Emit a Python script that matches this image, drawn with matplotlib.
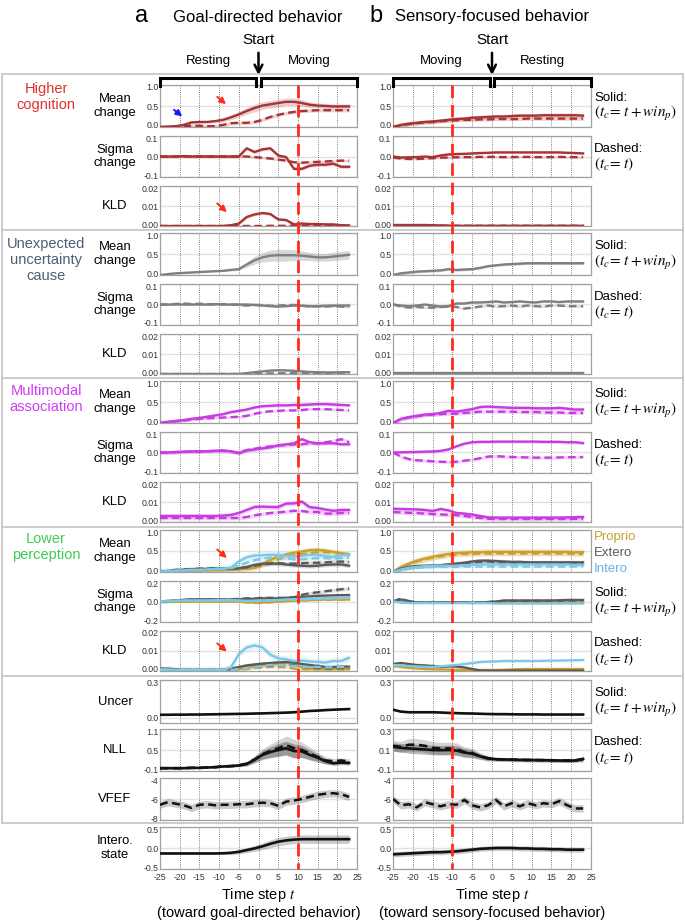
import numpy as np
import matplotlib
matplotlib.use("Agg")
import matplotlib.pyplot as plt
from matplotlib.transforms import blended_transform_factory, ScaledTranslation
from matplotlib.lines import Line2D
from matplotlib.patches import Rectangle

plt.rcParams['font.family'] = ['Liberation Sans', 'DejaVu Sans']
plt.rcParams['mathtext.fontset'] = 'stix'

# ---------------- data ----------------
T = [-25, -23, -21, -19, -17, -15, -13, -11, -9, -7, -5, -3, -1, 1, 3, 5, 7, 9, 11, 13, 15, 17, 19, 21, 23]
X_TICKS = [-25, -20, -15, -10, -5, 0, 5, 10, 15, 20, 25]
RED_LINE_T = [10, -10]
START_T = 0
PHASES_A = [("Resting", -25, -0.6), ("Moving", 0.6, 25)]
PHASES_B = [("Moving", -25, -0.6), ("Resting", 0.6, 25)]

# Higher cognition, column a
HC_A_MEAN_S = [0.00, 0.01, 0.02, 0.05, 0.11, 0.12, 0.12, 0.14, 0.17, 0.23, 0.30, 0.38, 0.45, 0.51, 0.54, 0.57, 0.60, 0.60, 0.57, 0.53, 0.51, 0.50, 0.49, 0.49, 0.49]
HC_A_MEAN_S_SD = [0.01, 0.01, 0.01, 0.02, 0.03, 0.03, 0.03, 0.04, 0.05, 0.06, 0.07, 0.08, 0.09, 0.09, 0.09, 0.09, 0.09, 0.09, 0.08, 0.07, 0.06, 0.06, 0.06, 0.06, 0.06]
HC_A_MEAN_D = [0.00, 0.00, 0.01, 0.02, 0.03, 0.03, 0.02, 0.02, 0.05, 0.09, 0.10, 0.10, 0.12, 0.17, 0.24, 0.29, 0.33, 0.36, 0.38, 0.39, 0.40, 0.40, 0.40, 0.40, 0.40]
HC_A_SIG_S = [0, 0, 0, 0.002, 0, 0.001, 0, 0, 0, 0, 0, 0.04, 0.022, 0.035, 0.04, 0.005, -0.003, -0.06, -0.06, -0.045, -0.04, -0.04, -0.035, -0.05, -0.05]
HC_A_SIG_D = [0, 0, 0, 0, 0, 0, 0, 0, 0, 0, 0, 0, -0.003, -0.006, -0.01, -0.015, -0.02, -0.028, -0.03, -0.028, -0.026, -0.024, -0.022, -0.02, -0.02]
HC_A_KLD_S = [0, 0, 0, 0, 0, 0, 0, 0, 0, 0.0004, 0.0012, 0.0045, 0.0058, 0.0065, 0.006, 0.0033, 0.003, 0.0008, 0.0012, 0.001, 0.001, 0.0008, 0.0008, 0.0004, 0.0003]
HC_A_KLD_D = [0, 0, 0, 0, 0, 0, 0, 0, 0, 0, 0, 0, 0, 0, 0.0001, 0.0001, 0.0001, 0.0002, 0.0002, 0.0002, 0.0002, 0.0002, 0.0002, 0.0002, 0.0002]
# Higher cognition, column b
HC_B_MEAN_S = [0.00, 0.05, 0.08, 0.10, 0.12, 0.13, 0.15, 0.17, 0.19, 0.20, 0.22, 0.23, 0.24, 0.25, 0.25, 0.26, 0.27, 0.27, 0.27, 0.28, 0.28, 0.28, 0.28, 0.28, 0.27]
HC_B_MEAN_D = [0.00, 0.04, 0.07, 0.09, 0.11, 0.12, 0.14, 0.15, 0.16, 0.17, 0.17, 0.18, 0.18, 0.19, 0.19, 0.19, 0.19, 0.20, 0.20, 0.20, 0.20, 0.20, 0.20, 0.20, 0.20]
HC_B_SIG_S = [0, -0.005, -0.004, -0.003, 0, -0.003, 0.005, 0.01, 0.012, 0.013, 0.015, 0.017, 0.018, 0.02, 0.02, 0.02, 0.02, 0.02, 0.02, 0.02, 0.02, 0.02, 0.018, 0.017, 0.015]
HC_B_SIG_D = [-0.005, -0.01, -0.012, -0.012, -0.01, -0.008, -0.006, -0.005, -0.004, -0.003, -0.003, -0.002, -0.002, -0.002, -0.003, -0.003, -0.002, -0.002, -0.003, -0.003, -0.003, -0.002, -0.003, -0.003, -0.003]
HC_B_KLD_S = [0.0005, 0.0005, 0.0005, 0.0005, 0.0005, 0.0004, 0.0003, 0.0002, 0.0001, 0.0001, 0.0001, 0.0001, 0.0001, 0.0001, 0.0001, 0.0001, 0.0001, 0.0001, 0.0001, 0.0001, 0.0001, 0.0001, 0.0001, 0.0001, 0.0001]
HC_B_KLD_D = [0.0003, 0.0003, 0.0002, 0.0002, 0.0002, 0.0002, 0.0001, 0.0001, 0.0001, 0.0001, 0.0001, 0.0001, 0.0001, 0.0001, 0.0001, 0.0001, 0.0001, 0.0001, 0.0001, 0.0001, 0.0001, 0.0001, 0.0001, 0.0001, 0.0001]

# Unexpected uncertainty cause
UU_A_MEAN_S = [0.00, 0.02, 0.04, 0.05, 0.06, 0.07, 0.08, 0.09, 0.10, 0.12, 0.14, 0.25, 0.35, 0.42, 0.46, 0.47, 0.47, 0.47, 0.46, 0.44, 0.42, 0.42, 0.44, 0.46, 0.48]
UU_A_MEAN_S_SD = [0.01, 0.01, 0.01, 0.01, 0.01, 0.01, 0.01, 0.01, 0.01, 0.02, 0.03, 0.06, 0.09, 0.11, 0.13, 0.14, 0.14, 0.13, 0.11, 0.10, 0.09, 0.09, 0.10, 0.10, 0.10]
UU_A_SIG_S = [0, 0, 0, 0, 0, 0, 0, 0.002, 0, 0, 0, 0, -0.002, -0.005, -0.008, -0.01, -0.008, -0.005, -0.006, -0.008, -0.008, -0.006, -0.005, -0.005, -0.005]
UU_A_SIG_D = [0, 0, 0.003, 0.005, 0.002, 0.004, 0.002, 0, 0.002, 0, -0.002, -0.005, -0.002, -0.003, -0.006, -0.005, -0.003, -0.002, -0.006, -0.01, -0.008, -0.01, -0.008, -0.01, -0.012]
UU_A_KLD_S = [0, 0, 0, 0, 0, 0, 0, 0, 0, 0, 0, 0.0004, 0.0009, 0.0013, 0.0017, 0.0019, 0.0018, 0.0016, 0.0013, 0.001, 0.0009, 0.0008, 0.0008, 0.0009, 0.0009]
UU_A_KLD_D = [0, 0, 0, 0, 0, 0, 0, 0, 0, 0, 0, 0.0001, 0.0002, 0.0003, 0.0003, 0.0004, 0.0004, 0.0004, 0.0003, 0.0003, 0.0003, 0.0003, 0.0003, 0.0003, 0.0003]
UU_B_MEAN_S = [0.00, 0.04, 0.06, 0.08, 0.09, 0.10, 0.11, 0.14, 0.12, 0.13, 0.14, 0.17, 0.21, 0.23, 0.25, 0.26, 0.27, 0.28, 0.28, 0.28, 0.28, 0.28, 0.28, 0.28, 0.28]
UU_B_SIG_S = [0, -0.005, -0.008, -0.005, 0, -0.005, -0.01, -0.008, 0.005, 0.005, 0.01, 0.01, 0.012, 0.015, 0.01, 0.012, 0.015, 0.012, 0.01, 0.015, 0.015, 0.012, 0.015, 0.015, 0.015]
UU_B_SIG_D = [0, -0.01, -0.015, -0.012, -0.015, -0.015, -0.012, -0.01, -0.012, -0.02, -0.015, -0.01, -0.005, -0.01, -0.008, -0.005, -0.01, -0.005, -0.008, -0.01, -0.005, -0.005, -0.008, -0.008, -0.008]
UU_B_KLD_S = [0.0004] * 25
UU_B_KLD_D = [0.0002] * 25

# Multimodal association
MA_A_MEAN_S = [0.00, 0.03, 0.05, 0.07, 0.10, 0.12, 0.15, 0.18, 0.21, 0.26, 0.29, 0.32, 0.37, 0.40, 0.41, 0.42, 0.42, 0.43, 0.43, 0.44, 0.45, 0.45, 0.44, 0.43, 0.42]
MA_A_MEAN_D = [0.00, 0.02, 0.04, 0.06, 0.08, 0.10, 0.11, 0.12, 0.13, 0.14, 0.15, 0.17, 0.22, 0.26, 0.28, 0.29, 0.30, 0.30, 0.31, 0.33, 0.33, 0.33, 0.32, 0.31, 0.30]
MA_A_SIG_S = [0, 0, 0.002, 0.004, 0.005, 0.005, 0.006, 0.008, 0.01, 0.006, -0.004, 0.01, 0.015, 0.02, 0.025, 0.035, 0.04, 0.045, 0.065, 0.05, 0.045, 0.045, 0.045, 0.04, 0.04]
MA_A_SIG_D = [0, 0, 0.002, 0.003, 0.004, 0.005, 0.006, 0.008, 0.008, 0.004, 0.0, 0.012, 0.018, 0.025, 0.03, 0.035, 0.035, 0.04, 0.04, 0.045, 0.045, 0.05, 0.055, 0.065, 0.05]
MA_A_KLD_S = [0.003, 0.003, 0.003, 0.003, 0.003, 0.003, 0.003, 0.003, 0.0032, 0.0035, 0.0045, 0.006, 0.0075, 0.0077, 0.0075, 0.0075, 0.0092, 0.0093, 0.0102, 0.0074, 0.007, 0.0062, 0.0056, 0.006, 0.006]
MA_A_KLD_D = [0.002, 0.002, 0.002, 0.002, 0.002, 0.002, 0.002, 0.002, 0.002, 0.002, 0.002, 0.0025, 0.0033, 0.004, 0.0045, 0.0048, 0.0052, 0.0056, 0.0055, 0.005, 0.005, 0.0042, 0.0042, 0.0045, 0.0045]
MA_B_MEAN_S = [0.00, 0.10, 0.14, 0.17, 0.20, 0.21, 0.24, 0.29, 0.27, 0.30, 0.33, 0.38, 0.39, 0.38, 0.37, 0.36, 0.36, 0.36, 0.35, 0.35, 0.35, 0.36, 0.34, 0.32, 0.32]
MA_B_MEAN_D = [0.00, 0.09, 0.13, 0.16, 0.19, 0.20, 0.21, 0.22, 0.22, 0.24, 0.25, 0.27, 0.27, 0.27, 0.27, 0.27, 0.26, 0.26, 0.26, 0.25, 0.25, 0.25, 0.24, 0.24, 0.24]
MA_B_SIG_S = [0, 0.001, 0.002, 0.003, 0.004, 0.005, 0.008, 0.015, 0.03, 0.043, 0.05, 0.052, 0.052, 0.053, 0.053, 0.053, 0.053, 0.053, 0.053, 0.052, 0.052, 0.052, 0.05, 0.05, 0.046]
MA_B_SIG_D = [0, -0.02, -0.032, -0.038, -0.04, -0.043, -0.045, -0.046, -0.045, -0.04, -0.035, -0.028, -0.02, -0.018, -0.02, -0.022, -0.023, -0.024, -0.025, -0.025, -0.025, -0.024, -0.023, -0.023, -0.022]
MA_B_KLD_S = [0.0066, 0.0065, 0.0064, 0.0063, 0.006, 0.0055, 0.0065, 0.0058, 0.0045, 0.0042, 0.0037, 0.003, 0.0023, 0.0022, 0.0022, 0.0022, 0.0022, 0.0022, 0.0022, 0.0022, 0.0022, 0.0022, 0.0023, 0.0024, 0.0025]
MA_B_KLD_D = [0.005, 0.0048, 0.0046, 0.0045, 0.0042, 0.004, 0.0038, 0.0036, 0.0034, 0.003, 0.0025, 0.002, 0.0016, 0.0015, 0.0015, 0.0015, 0.0015, 0.0015, 0.0015, 0.0015, 0.0015, 0.0015, 0.0015, 0.0015, 0.0015]

# Lower perception (proprio / extero / intero)
LP_A_MEAN_P_S = [0.00, 0.01, 0.02, 0.03, 0.03, 0.04, 0.04, 0.05, 0.05, 0.06, 0.07, 0.08, 0.10, 0.19, 0.29, 0.37, 0.42, 0.46, 0.49, 0.52, 0.53, 0.51, 0.48, 0.45, 0.42]
LP_A_MEAN_P_D = [0.00, 0.01, 0.02, 0.03, 0.03, 0.04, 0.04, 0.05, 0.05, 0.06, 0.07, 0.08, 0.10, 0.15, 0.22, 0.30, 0.36, 0.40, 0.43, 0.45, 0.47, 0.47, 0.46, 0.44, 0.42]
LP_A_MEAN_E_S = [0.00, 0.02, 0.04, 0.05, 0.06, 0.07, 0.07, 0.08, 0.08, 0.08, 0.09, 0.12, 0.17, 0.20, 0.20, 0.20, 0.18, 0.16, 0.15, 0.14, 0.15, 0.17, 0.18, 0.18, 0.15]
LP_A_MEAN_E_D = [0.00, 0.03, 0.05, 0.06, 0.07, 0.08, 0.08, 0.09, 0.09, 0.09, 0.09, 0.11, 0.15, 0.18, 0.20, 0.21, 0.20, 0.20, 0.21, 0.22, 0.22, 0.23, 0.24, 0.25, 0.24]
LP_A_MEAN_I_S = [0.00, 0.02, 0.03, 0.04, 0.05, 0.05, 0.06, 0.07, 0.08, 0.10, 0.25, 0.35, 0.39, 0.40, 0.41, 0.41, 0.39, 0.37, 0.38, 0.41, 0.41, 0.38, 0.36, 0.40, 0.42]
LP_A_MEAN_I_D = [0.00, 0.02, 0.03, 0.04, 0.05, 0.05, 0.06, 0.07, 0.08, 0.09, 0.15, 0.22, 0.28, 0.32, 0.34, 0.35, 0.33, 0.30, 0.30, 0.32, 0.33, 0.33, 0.32, 0.33, 0.34]
LP_A_SIG_P_S = [0, 0, 0, 0, 0, 0, 0, 0, 0, 0, 0, -0.005, -0.01, -0.008, -0.005, 0, 0.005, 0.01, 0.012, 0.015, 0.018, 0.02, 0.02, 0.02, 0.02]
LP_A_SIG_P_D = [0, 0, 0, 0, 0, 0, 0, 0, 0, 0, -0.003, -0.008, -0.012, -0.01, -0.006, -0.002, 0.003, 0.008, 0.01, 0.012, 0.015, 0.017, 0.018, 0.018, 0.018]
LP_A_SIG_E_S = [0, 0.005, 0.01, 0.015, 0.02, 0.02, 0.02, 0.02, 0.02, 0.02, 0.02, 0.025, 0.025, 0.03, 0.03, 0.03, 0.035, 0.04, 0.045, 0.05, 0.055, 0.058, 0.06, 0.062, 0.063]
LP_A_SIG_E_D = [0, 0.005, 0.01, 0.015, 0.02, 0.02, 0.02, 0.02, 0.02, 0.022, 0.025, 0.03, 0.03, 0.035, 0.035, 0.035, 0.035, 0.04, 0.065, 0.08, 0.09, 0.10, 0.11, 0.12, 0.125]
LP_A_SIG_I_S = [0, 0.005, 0.008, 0.01, 0.01, 0.01, 0.01, 0.012, 0.015, 0.015, 0.01, 0.005, 0.008, 0.01, 0.012, 0.015, 0.02, 0.022, 0.025, 0.028, 0.03, 0.032, 0.035, 0.038, 0.04]
LP_A_SIG_I_D = [0, 0.004, 0.006, 0.008, 0.008, 0.008, 0.008, 0.01, 0.012, 0.012, 0.008, 0.004, 0.006, 0.008, 0.01, 0.012, 0.015, 0.018, 0.02, 0.022, 0.025, 0.027, 0.03, 0.032, 0.034]
LP_A_KLD_P_S = [0.0003, 0.0003, 0.0003, 0.0003, 0.0003, 0.0003, 0.0003, 0.0003, 0.0003, 0.0005, 0.001, 0.0018, 0.0025, 0.003, 0.0035, 0.0038, 0.0042, 0.003, 0.002, 0.0012, 0.001, 0.001, 0.001, 0.001, 0.001]
LP_A_KLD_P_D = [0.0002, 0.0002, 0.0002, 0.0002, 0.0002, 0.0002, 0.0002, 0.0002, 0.0002, 0.0003, 0.0006, 0.001, 0.0015, 0.0018, 0.002, 0.002, 0.0018, 0.0012, 0.0009, 0.0008, 0.0008, 0.0008, 0.0008, 0.0008, 0.0008]
LP_A_KLD_E_S = [0.0012, 0.0012, 0.0008, 0.0006, 0.0006, 0.0006, 0.0006, 0.0006, 0.0006, 0.0012, 0.002, 0.0028, 0.0033, 0.0037, 0.004, 0.0043, 0.0045, 0.0042, 0.0035, 0.003, 0.0025, 0.002, 0.002, 0.0022, 0.0022]
LP_A_KLD_E_D = [0.0008, 0.0008, 0.0006, 0.0005, 0.0005, 0.0005, 0.0005, 0.0005, 0.0005, 0.0008, 0.0012, 0.0018, 0.0022, 0.0025, 0.0028, 0.003, 0.003, 0.0028, 0.0022, 0.0018, 0.0015, 0.0013, 0.0013, 0.0014, 0.0014]
LP_A_KLD_I_S = [0.0008, 0.0008, 0.0006, 0.0005, 0.0005, 0.0005, 0.0005, 0.0005, 0.0005, 0.0018, 0.0085, 0.0118, 0.0128, 0.0118, 0.0082, 0.0063, 0.0058, 0.005, 0.0052, 0.0048, 0.0045, 0.0042, 0.005, 0.005, 0.0066]
LP_A_KLD_I_D = [0.0005, 0.0005, 0.0004, 0.0003, 0.0003, 0.0003, 0.0003, 0.0003, 0.0003, 0.0005, 0.001, 0.0015, 0.002, 0.0025, 0.003, 0.003, 0.0028, 0.0025, 0.0022, 0.002, 0.002, 0.0018, 0.0018, 0.002, 0.002]
LP_B_MEAN_P_S = [0.00, 0.12, 0.20, 0.27, 0.32, 0.36, 0.40, 0.43, 0.45, 0.46, 0.47, 0.47, 0.48, 0.48, 0.48, 0.48, 0.48, 0.48, 0.48, 0.48, 0.48, 0.48, 0.48, 0.47, 0.47]
LP_B_MEAN_P_D = [0.00, 0.10, 0.18, 0.25, 0.30, 0.34, 0.37, 0.40, 0.42, 0.43, 0.43, 0.44, 0.44, 0.44, 0.44, 0.44, 0.44, 0.44, 0.44, 0.44, 0.44, 0.44, 0.44, 0.43, 0.43]
LP_B_MEAN_E_S = [0.00, 0.08, 0.12, 0.14, 0.15, 0.15, 0.16, 0.18, 0.20, 0.22, 0.25, 0.27, 0.27, 0.26, 0.25, 0.24, 0.24, 0.23, 0.23, 0.23, 0.23, 0.23, 0.23, 0.23, 0.23]
LP_B_MEAN_E_D = [0.00, 0.07, 0.11, 0.13, 0.14, 0.15, 0.16, 0.17, 0.19, 0.21, 0.23, 0.24, 0.25, 0.24, 0.23, 0.22, 0.22, 0.22, 0.21, 0.21, 0.21, 0.21, 0.21, 0.21, 0.21]
LP_B_MEAN_I_S = [0.00, 0.06, 0.10, 0.12, 0.14, 0.15, 0.15, 0.15, 0.15, 0.16, 0.17, 0.18, 0.18, 0.18, 0.18, 0.18, 0.18, 0.18, 0.18, 0.18, 0.18, 0.18, 0.18, 0.17, 0.17]
LP_B_MEAN_I_D = [0.00, 0.05, 0.08, 0.10, 0.11, 0.12, 0.12, 0.12, 0.12, 0.13, 0.13, 0.13, 0.13, 0.13, 0.13, 0.13, 0.13, 0.13, 0.13, 0.13, 0.13, 0.13, 0.13, 0.13, 0.13]
LP_B_SIG_P_S = [0, -0.005, -0.008, -0.01, -0.01, -0.01, -0.01, -0.01, -0.01, -0.012, -0.012, -0.012, -0.012, -0.01, -0.01, -0.01, -0.01, -0.01, -0.01, -0.01, -0.01, -0.01, -0.01, -0.01, -0.01]
LP_B_SIG_E_S = [0, 0.02, 0.005, -0.01, -0.01, -0.01, -0.01, -0.01, -0.008, -0.01, -0.012, -0.01, -0.005, 0.0, 0.01, 0.01, 0.01, 0.01, 0.01, 0.01, 0.01, 0.012, 0.015, 0.015, 0.015]
LP_B_SIG_E_D = [0, 0.03, 0.0, -0.012, -0.012, -0.012, -0.012, -0.01, -0.01, -0.01, -0.012, -0.01, -0.006, -0.002, 0.005, 0.006, 0.006, 0.006, 0.006, 0.006, 0.006, 0.008, 0.01, 0.01, 0.01]
LP_B_SIG_I_S = [0, -0.01, -0.015, -0.015, -0.015, -0.015, -0.015, -0.015, -0.015, -0.015, -0.015, -0.015, -0.015, -0.02, -0.02, -0.02, -0.02, -0.02, -0.02, -0.02, -0.02, -0.02, -0.02, -0.02, -0.02]
LP_B_KLD_P_S = [0.0025, 0.002, 0.0015, 0.0013, 0.001, 0.0009, 0.0008, 0.0007, 0.0006, 0.0006, 0.0005, 0.0005, 0.0005, 0.0005, 0.0006, 0.0008, 0.0009, 0.001, 0.001, 0.001, 0.001, 0.001, 0.001, 0.001, 0.001]
LP_B_KLD_E_S = [0.0035, 0.004, 0.0035, 0.003, 0.0028, 0.0025, 0.002, 0.0023, 0.0022, 0.0018, 0.001, 0.0003, 0.0002, 0.0002, 0.0002, 0.0002, 0.0002, 0.0002, 0.0002, 0.0002, 0.0002, 0.0002, 0.0002, 0.0002, 0.0002]
LP_B_KLD_I_S = [0.003, 0.0028, 0.0025, 0.0023, 0.0021, 0.002, 0.0023, 0.0027, 0.003, 0.0035, 0.004, 0.0045, 0.0047, 0.0048, 0.005, 0.005, 0.005, 0.005, 0.005, 0.0051, 0.0052, 0.0052, 0.0053, 0.0054, 0.0055]

# Bottom block: uncertainty, NLL, VFEF, interoceptive state
UNC_A = [0.025, 0.025, 0.026, 0.026, 0.027, 0.027, 0.028, 0.029, 0.030, 0.031, 0.032, 0.033, 0.035, 0.036, 0.038, 0.040, 0.042, 0.045, 0.050, 0.055, 0.058, 0.062, 0.065, 0.068, 0.070]
UNC_B = [0.065, 0.050, 0.045, 0.045, 0.045, 0.045, 0.043, 0.040, 0.038, 0.036, 0.035, 0.033, 0.031, 0.030, 0.030, 0.029, 0.028, 0.028, 0.028, 0.027, 0.027, 0.027, 0.027, 0.027, 0.027]
NLL_A_S = [-0.02, -0.02, -0.02, -0.02, -0.01, -0.01, 0.00, 0.01, 0.03, 0.04, 0.06, 0.10, 0.22, 0.36, 0.44, 0.50, 0.55, 0.47, 0.46, 0.36, 0.28, 0.18, 0.12, 0.14, 0.13]
NLL_A_D = [-0.02, -0.02, -0.02, -0.02, -0.01, -0.01, 0.00, 0.01, 0.03, 0.04, 0.06, 0.11, 0.23, 0.38, 0.47, 0.55, 0.64, 0.55, 0.50, 0.40, 0.30, 0.20, 0.18, 0.20, 0.17]
NLL_A_SD = [0.01, 0.01, 0.01, 0.01, 0.01, 0.01, 0.01, 0.015, 0.02, 0.025, 0.03, 0.05, 0.08, 0.12, 0.15, 0.18, 0.2, 0.2, 0.17, 0.14, 0.11, 0.08, 0.06, 0.06, 0.06]
NLL_B_S = [0.13, 0.12, 0.115, 0.11, 0.105, 0.10, 0.098, 0.10, 0.095, 0.075, 0.065, 0.04, 0.02, 0.012, 0.01, 0.008, 0.006, 0.005, 0.004, 0.003, 0.002, 0.0, -0.002, 0.0, 0.015]
NLL_B_D = [0.14, 0.13, 0.15, 0.15, 0.14, 0.12, 0.115, 0.115, 0.11, 0.08, 0.07, 0.04, 0.02, 0.012, 0.01, 0.008, 0.006, 0.005, 0.004, 0.003, 0.002, 0.0, 0.0, 0.002, 0.01]
NLL_B_SD = [0.04, 0.04, 0.045, 0.045, 0.045, 0.045, 0.045, 0.045, 0.045, 0.04, 0.035, 0.025, 0.02, 0.015, 0.015, 0.015, 0.015, 0.015, 0.015, 0.015, 0.015, 0.015, 0.015, 0.015, 0.02]
VFEF_A = [-6.55, -6.3, -6.45, -6.6, -6.85, -6.55, -6.5, -6.6, -6.55, -6.55, -6.5, -6.5, -6.4, -6.35, -6.4, -6.65, -6.25, -6.15, -6.0, -5.8, -5.6, -5.5, -5.45, -5.55, -5.8]
VFEF_B = [-6.0, -6.6, -6.5, -6.8, -6.3, -6.5, -6.7, -6.5, -6.55, -6.1, -6.6, -6.8, -6.6, -6.1, -6.7, -6.4, -6.7, -6.4, -6.6, -6.4, -6.5, -6.2, -6.6, -6.9, -6.9]
INTERO_A = [-0.13, -0.13, -0.13, -0.13, -0.13, -0.13, -0.13, -0.13, -0.125, -0.115, -0.09, -0.05, -0.01, 0.04, 0.10, 0.15, 0.18, 0.20, 0.21, 0.21, 0.21, 0.21, 0.21, 0.21, 0.21]
INTERO_A_SD = [0.02, 0.02, 0.02, 0.02, 0.02, 0.02, 0.02, 0.02, 0.03, 0.04, 0.05, 0.06, 0.07, 0.08, 0.09, 0.1, 0.1, 0.1, 0.1, 0.1, 0.1, 0.1, 0.1, 0.1, 0.1]
INTERO_B = [-0.15, -0.14, -0.13, -0.12, -0.11, -0.10, -0.10, -0.09, -0.08, -0.06, -0.04, -0.02, -0.01, 0.0, 0.0, 0.0, -0.01, -0.01, -0.02, -0.02, -0.03, -0.03, -0.04, -0.04, -0.04]

# ---------------- style ----------------
C_HC = '#a83234'
C_UU = '#7f7f7f'
C_MA = '#c63ce0'
C_P = '#c9a02c'
C_E = '#5a5a5a'
C_I = '#7cc8e6'
C_K = '#111111'
C_RED = '#ff2a1a'

W, H = 685, 922
fig = plt.figure(figsize=(W / 100, H / 100), dpi=100)

def fy(py):
    return 1 - py / H

ROWS = [(85, 127), (136, 177), (186, 226), (233, 275), (284, 325), (334, 374),
        (381, 423), (432, 473), (482, 522), (530, 572), (581, 622), (631, 671),
        (680, 723), (729, 771), (778, 820), (827, 869)]
COLS = [(160, 357), (393, 591)]

def row_spec(r, c):
    if r < 9:
        k = r % 3
        if k == 0:
            return (0, 1), [0, 0.5, 1], ['0.0', '0.5', '1.0']
        if k == 1:
            return (-0.1, 0.1), [-0.1, 0, 0.1], ['-0.1', '0.0', '0.1']
        return (0, 0.02), [0, 0.01, 0.02], ['0.00', '0.01', '0.02']
    if r == 9:
        return (0, 1), [0, 0.5, 1], ['0.0', '0.5', '1.0']
    if r == 10:
        return (-0.2, 0.2), [-0.2, 0, 0.2], ['-0.2', '0.0', '0.2']
    if r == 11:
        return (0, 0.02), [0, 0.01, 0.02], ['0.00', '0.01', '0.02']
    if r == 12:
        return (-0.04, 0.3), [0, 0.3], ['0.0', '0.3']
    if r == 13:
        if c == 0:
            return (-0.1, 1.1), [-0.1, 0.5, 1.1], ['-0.1', '0.5', '1.1']
        return (-0.1, 0.3), [-0.1, 0.1, 0.3], ['-0.1', '0.1', '0.3']
    if r == 14:
        return (-8, -4), [-8, -6, -4], ['-8', '-6', '-4']
    return (-0.5, 0.5), [-0.5, 0, 0.5], ['-0.5', '0.0', '0.5']

tick_font = dict(family=['Liberation Sans Narrow', 'Liberation Sans', 'DejaVu Sans'], size=6.3)
nudge_down = ScaledTranslation(0, -0.02, fig.dpi_scale_trans)
nudge_up = ScaledTranslation(0, 0.02, fig.dpi_scale_trans)

axes = [[None] * 2 for _ in range(16)]
for r, (top, bot) in enumerate(ROWS):
    for c, (x0, x1) in enumerate(COLS):
        ax = fig.add_axes([x0 / W, fy(bot), (x1 - x0) / W, (bot - top) / H])
        ylim, yt, ytl = row_spec(r, c)
        ax.set_xlim(-25, 25)
        ax.set_ylim(*ylim)
        ax.set_yticks(yt)
        ax.set_xticks(X_TICKS)
        ax.tick_params(axis='y', length=0, pad=1.2)
        ax.tick_params(axis='x', length=0, pad=3.2)
        labs = ax.set_yticklabels(ytl, **tick_font, color='#333333')
        # keep the edge labels of stacked panels from touching
        labs[-1].set_transform(labs[-1].get_transform() + nudge_down)
        if ylim[0] == yt[0]:
            labs[0].set_transform(labs[0].get_transform() + nudge_up)
        for v in yt:
            ax.axhline(v, color='#e2e2e2', lw=1.0, zorder=0)
        for v in X_TICKS[1:-1]:
            ax.axvline(v, color='#555555', lw=0.6, ls=(0, (1, 1.6)), zorder=0)
        if r == 15:
            ax.set_xticklabels([str(v) for v in X_TICKS], **tick_font, color='#333333')
        else:
            ax.set_xticklabels([])
        for s in ax.spines.values():
            s.set_color('#a0a0a0')
            s.set_linewidth(0.9)
        axes[r][c] = ax

def draw(ax, y, color, dashed=False, sd=None, lw=1.7, alpha=0.22, z=3):
    t = np.array(T)
    yv = np.array(y, dtype=float)
    if sd is not None:
        s = np.array(sd, dtype=float) * np.ones_like(yv)
        ax.fill_between(t, yv - s, yv + s, color=color, alpha=alpha, lw=0, zorder=z - 1)
    ls = (0, (3.2, 1.8)) if dashed else '-'
    ax.plot(t, yv, color=color, lw=lw, ls=ls, zorder=z)

# Higher cognition
draw(axes[0][0], HC_A_MEAN_D, C_HC, True, 0.04)
draw(axes[0][0], HC_A_MEAN_S, C_HC, False, HC_A_MEAN_S_SD)
draw(axes[1][0], HC_A_SIG_D, C_HC, True, 0.006)
draw(axes[1][0], HC_A_SIG_S, C_HC, False, 0.008)
draw(axes[2][0], HC_A_KLD_D, C_HC, True, 0.0002)
draw(axes[2][0], HC_A_KLD_S, C_HC, False, 0.0007)
draw(axes[0][1], HC_B_MEAN_D, C_HC, True, 0.04)
draw(axes[0][1], HC_B_MEAN_S, C_HC, False, 0.05)
draw(axes[1][1], HC_B_SIG_D, C_HC, True, 0.005)
draw(axes[1][1], HC_B_SIG_S, C_HC, False, 0.005)
draw(axes[2][1], HC_B_KLD_D, C_HC, True, 0.0002)
draw(axes[2][1], HC_B_KLD_S, C_HC, False, 0.0002)
# Unexpected uncertainty cause
draw(axes[3][0], UU_A_MEAN_S, C_UU, False, UU_A_MEAN_S_SD, alpha=0.3)
draw(axes[4][0], UU_A_SIG_D, C_UU, True, 0.004, alpha=0.3)
draw(axes[4][0], UU_A_SIG_S, C_UU, False, 0.004, alpha=0.3)
draw(axes[5][0], UU_A_KLD_D, C_UU, True, 0.0002, alpha=0.3)
draw(axes[5][0], UU_A_KLD_S, C_UU, False, 0.0003, alpha=0.3)
draw(axes[3][1], UU_B_MEAN_S, C_UU, False, 0.03, alpha=0.3)
draw(axes[4][1], UU_B_SIG_D, C_UU, True, 0.004, alpha=0.3)
draw(axes[4][1], UU_B_SIG_S, C_UU, False, 0.004, alpha=0.3)
draw(axes[5][1], UU_B_KLD_D, C_UU, True, 0.0001, alpha=0.3)
draw(axes[5][1], UU_B_KLD_S, C_UU, False, 0.0001, alpha=0.3)
# Multimodal association
draw(axes[6][0], MA_A_MEAN_D, C_MA, True, 0.03)
draw(axes[6][0], MA_A_MEAN_S, C_MA, False, 0.04)
draw(axes[7][0], MA_A_SIG_D, C_MA, True, 0.01)
draw(axes[7][0], MA_A_SIG_S, C_MA, False, 0.008)
draw(axes[8][0], MA_A_KLD_D, C_MA, True, 0.001)
draw(axes[8][0], MA_A_KLD_S, C_MA, False, 0.0012)
draw(axes[6][1], MA_B_MEAN_D, C_MA, True, 0.04)
draw(axes[6][1], MA_B_MEAN_S, C_MA, False, 0.05)
draw(axes[7][1], MA_B_SIG_D, C_MA, True, 0.008)
draw(axes[7][1], MA_B_SIG_S, C_MA, False, 0.008)
draw(axes[8][1], MA_B_KLD_D, C_MA, True, 0.001)
draw(axes[8][1], MA_B_KLD_S, C_MA, False, 0.001)
# Lower perception
for col, series in [
    (0, [(9, LP_A_MEAN_P_D, C_P, True, 0.05), (9, LP_A_MEAN_P_S, C_P, False, 0.06),
         (9, LP_A_MEAN_E_D, C_E, True, 0.04), (9, LP_A_MEAN_E_S, C_E, False, 0.05),
         (9, LP_A_MEAN_I_D, C_I, True, 0.06), (9, LP_A_MEAN_I_S, C_I, False, 0.08),
         (10, LP_A_SIG_P_D, C_P, True, 0.01), (10, LP_A_SIG_P_S, C_P, False, 0.01),
         (10, LP_A_SIG_E_D, C_E, True, 0.018), (10, LP_A_SIG_E_S, C_E, False, 0.012),
         (10, LP_A_SIG_I_D, C_I, True, 0.008), (10, LP_A_SIG_I_S, C_I, False, 0.01),
         (11, LP_A_KLD_P_D, C_P, True, 0.0005), (11, LP_A_KLD_P_S, C_P, False, 0.0007),
         (11, LP_A_KLD_E_D, C_E, True, 0.0005), (11, LP_A_KLD_E_S, C_E, False, 0.0007),
         (11, LP_A_KLD_I_D, C_I, True, 0.0008), (11, LP_A_KLD_I_S, C_I, False, 0.0018)]),
    (1, [(9, LP_B_MEAN_P_D, C_P, True, 0.06), (9, LP_B_MEAN_P_S, C_P, False, 0.08),
         (9, LP_B_MEAN_E_D, C_E, True, 0.04), (9, LP_B_MEAN_E_S, C_E, False, 0.05),
         (9, LP_B_MEAN_I_D, C_I, True, 0.03), (9, LP_B_MEAN_I_S, C_I, False, 0.04),
         (10, LP_B_SIG_P_S, C_P, False, 0.008),
         (10, LP_B_SIG_E_D, C_E, True, 0.008), (10, LP_B_SIG_E_S, C_E, False, 0.01),
         (10, LP_B_SIG_I_S, C_I, False, 0.008),
         (11, LP_B_KLD_P_S, C_P, False, 0.0004),
         (11, LP_B_KLD_E_S, C_E, False, 0.0005),
         (11, LP_B_KLD_I_S, C_I, False, 0.0006)]),
]:
    for r, y, colr, dsh, sd in series:
        draw(axes[r][col], y, colr, dsh, sd, alpha=0.2)
# bottom block
draw(axes[12][0], UNC_A, C_K, False, 0.004, lw=1.9)
draw(axes[12][1], UNC_B, C_K, False, 0.004, lw=1.9)
draw(axes[13][0], NLL_A_D, C_K, True, np.array(NLL_A_SD) * 1.3, alpha=0.18, lw=1.9)
draw(axes[13][0], NLL_A_S, C_K, False, NLL_A_SD, alpha=0.3, lw=1.9)
draw(axes[13][1], NLL_B_D, C_K, True, np.array(NLL_B_SD) * 1.3, alpha=0.18, lw=1.9)
draw(axes[13][1], NLL_B_S, C_K, False, NLL_B_SD, alpha=0.3, lw=1.9)
draw(axes[14][0], VFEF_A, C_K, True, 0.35, alpha=0.22, lw=1.8)
draw(axes[14][1], VFEF_B, C_K, True, 0.35, alpha=0.22, lw=1.8)
draw(axes[15][0], INTERO_A, C_K, False, INTERO_A_SD, alpha=0.22, lw=1.9)
draw(axes[15][1], INTERO_B, C_K, False, 0.06, alpha=0.22, lw=1.9)

# red dashed vertical line through all panels
for c, tv in enumerate(RED_LINE_T):
    tr = blended_transform_factory(axes[15][c].transData, fig.transFigure)
    fig.add_artist(Line2D([tv, tv], [fy(ROWS[0][0]), fy(ROWS[-1][1])], transform=tr,
                          color=C_RED, lw=2.0, ls=(0, (4.5, 2.5)), zorder=10))

# outer group box and separators
fig.add_artist(Rectangle((2 / W, fy(823)), 681 / W, (823 - 74) / H, transform=fig.transFigure,
                         fill=False, ec='#c8c8c8', lw=1.3))
for py in [230, 378, 527, 676]:
    fig.add_artist(Line2D([2 / W, 683 / W], [fy(py), fy(py)], transform=fig.transFigure,
                          color='#c8c8c8', lw=1.3))

# phase brackets / start arrows
for c, phases in enumerate([PHASES_A, PHASES_B]):
    tr = blended_transform_factory(axes[0][c].transData, fig.transFigure)
    for name, a, b in phases:
        fig.add_artist(Line2D([a, a, b, b], [fy(86), fy(78), fy(78), fy(86)], transform=tr,
                              color='black', lw=2.2, solid_joinstyle='miter'))
        fig.text((a + b) / 2, fy(61), name, transform=tr, ha='center', va='center', fontsize=9.5)
    axes[0][c].annotate('', xy=(START_T, fy(78)), xytext=(START_T, fy(50)),
                        xycoords=tr, textcoords=tr,
                        arrowprops=dict(arrowstyle='->', lw=1.8, color='black', mutation_scale=14))
    fig.text(START_T, fy(40), 'Start', transform=tr, ha='center', va='center', fontsize=11)

# titles
fig.text(142 / W, fy(16), 'a', fontsize=17, ha='center', va='center')
fig.text(258 / W, fy(17), 'Goal-directed behavior', fontsize=12, ha='center', va='center')
fig.text(376 / W, fy(16), 'b', fontsize=17, ha='center', va='center')
fig.text(492 / W, fy(17), 'Sensory-focused behavior', fontsize=12, ha='center', va='center')

# group labels
GROUPS = [("Higher\ncognition", '#e0312b', 97), ("Unexpected\nuncertainty\ncause", '#4e5d78', 260),
          ("Multimodal\nassociation", '#d03cf0', 399), ("Lower\nperception", '#3ccb5a', 547)]
for txt, colr, py in GROUPS:
    fig.text(46 / W, fy(py), txt, color=colr, fontsize=10.5, ha='center', va='center', linespacing=1.15)

# row labels
ROW_LABELS = ["Mean\nchange", "Sigma\nchange", "KLD"] * 4 + ["Uncer", "NLL", "VFEF", "Intero.\nstate"]
for r, lab in enumerate(ROW_LABELS):
    top, bot = ROWS[r]
    fig.text(115 / W, fy((top + bot) / 2), lab, fontsize=9.4, ha='center', va='center', linespacing=1.2)

# right-side legends
def solid_dashed(r, kind):
    top, bot = ROWS[r]
    cy = (top + bot) / 2
    if kind == 'S':
        fig.text(594 / W, fy(cy - 8), 'Solid:', fontsize=9.5, ha='left', va='center')
        fig.text(594 / W, fy(cy + 8), r'$(t_c\!=\,t + win_p)$', fontsize=11, ha='left', va='center')
    else:
        fig.text(594 / W, fy(cy - 8), 'Dashed:', fontsize=9.5, ha='left', va='center')
        fig.text(594 / W, fy(cy + 8), r'$(t_c\!=\,t)$', fontsize=11, ha='left', va='center')

for r in [0, 3, 6]:
    solid_dashed(r, 'S')
    solid_dashed(r + 1, 'D')
solid_dashed(10, 'S')
solid_dashed(11, 'D')
solid_dashed(12, 'S')
solid_dashed(13, 'D')
cy = (ROWS[9][0] + ROWS[9][1]) / 2
for lab, colr, off in [('Proprio', C_P, -14), ('Extero', C_E, 2), ('Intero', '#6aaee6', 18)]:
    fig.text(594 / W, fy(cy + off), lab, color=colr, fontsize=9.5, ha='left', va='center')

# annotation arrows
ARROWS = [(0, (-11, 0.76), (-7.7, 0.50), '#ff2a1a'), (0, (-22, 0.45), (-18.8, 0.21), '#1a1aff'),
          (2, (-11, 0.0122), (-7.5, 0.006), '#ff2a1a'), (9, (-11, 0.58), (-7.5, 0.29), '#ff2a1a'),
          (11, (-11, 0.0147), (-7.5, 0.0088), '#ff2a1a')]
for r, tail, head, colr in ARROWS:
    axes[r][0].annotate('', xy=head, xytext=tail,
                        arrowprops=dict(arrowstyle='-|>', color=colr, lw=1.4, mutation_scale=9))

# x labels
for c, sub in enumerate(['(toward goal-directed behavior)', '(toward sensory-focused behavior)']):
    x0, x1 = COLS[c]
    fig.text((x0 + x1) / 2 / W, fy(895), r'Time step $t$', fontsize=10.5, ha='center', va='center')
    fig.text((x0 + x1) / 2 / W, fy(913), sub, fontsize=10.5, ha='center', va='center')

fig.savefig('out.png', dpi=100)
